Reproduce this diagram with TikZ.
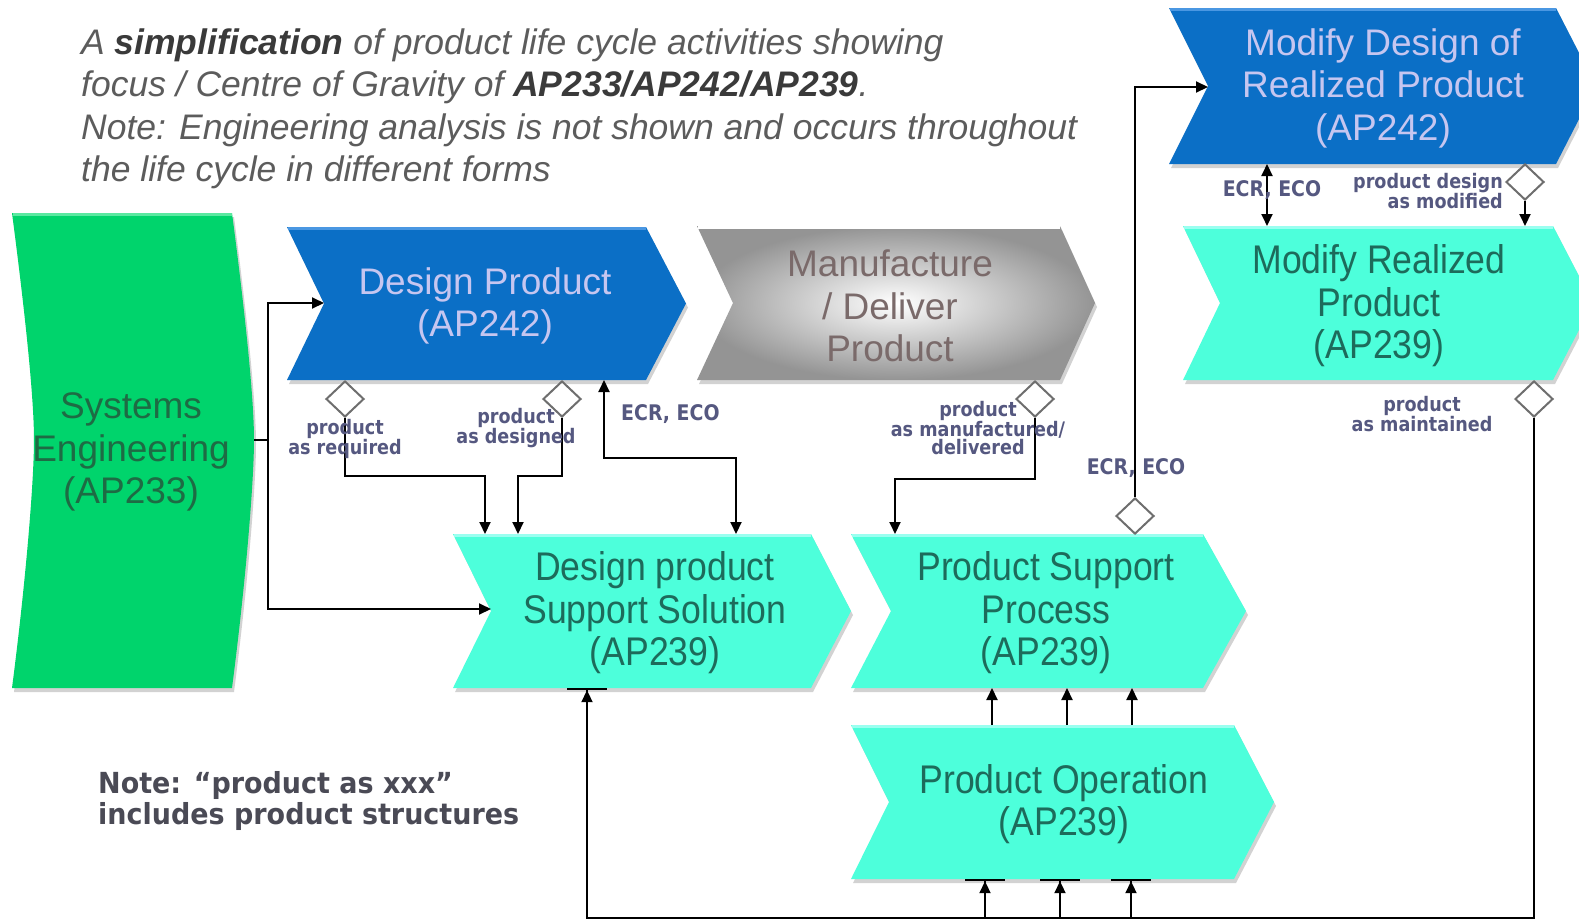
\documentclass[tikz,border=0pt]{standalone}
\usepackage{fontspec}
\setmainfont{Liberation Sans}
\newfontfamily\boxfont{Liberation Sans}
\newfontfamily\narrowbox[FakeStretch=0.89]{Liberation Sans}
\newfontfamily\labelfont[FakeStretch=0.88]{DejaVu Sans}
\newfontfamily\notefont[FakeStretch=0.93]{DejaVu Sans}
\usetikzlibrary{shapes.geometric,arrows.meta,shadows}

\definecolor{apblue}{HTML}{0B6FC6}
\definecolor{apbluehl}{HTML}{4A97E2}
\definecolor{apteal}{HTML}{4DFFDB}
\definecolor{aptealhl}{HTML}{9AFFF0}
\definecolor{apgreen}{HTML}{00D46C}
\definecolor{apgreenhl}{HTML}{5AE8A0}
\definecolor{bluetext}{HTML}{C6C6F0}
\definecolor{tealtext}{HTML}{1D6B5B}
\definecolor{greentext}{HTML}{1E6B44}
\definecolor{graytext}{HTML}{7A6A6A}
\definecolor{labeltext}{HTML}{555880}
\definecolor{titlegray}{HTML}{5C5C5C}
\definecolor{titledark}{HTML}{3A3A3A}
\definecolor{notetext}{HTML}{4A4A55}
\definecolor{diamondgray}{HTML}{6E6E6E}

\tikzset{
  tip/.tip={Triangle[length=12pt,width=11pt]},
  conn/.style={draw=black, line width=2pt, -tip},
  bothconn/.style={draw=black, line width=2pt, tip-tip},
  plain/.style={draw=black, line width=2pt},
  barconn/.style={draw=black, line width=2pt,
    -{Triangle[length=12pt,width=11pt,sep=0pt] Bar[width=40pt,line width=2.2pt]}},
  gate/.style={diamond, draw=diamondgray, fill=white, line width=2pt,
    minimum width=38pt, minimum height=36pt, inner sep=0pt},
  lab/.style={font=\labelfont\bfseries\fontsize{20}{18.5}\selectfont,
    text=labeltext, align=center, inner sep=0pt},
  ecr/.style={font=\labelfont\bfseries\fontsize{21.5}{20}\selectfont,
    text=labeltext, inner sep=0pt},
  bluetxt/.style={font=\boxfont\fontsize{37}{42.5}\selectfont, text=bluetext,
    align=center, inner sep=0pt},
  graytxt/.style={font=\boxfont\fontsize{37}{42.5}\selectfont, text=graytext,
    align=center, inner sep=0pt},
  tealtxt/.style={font=\narrowbox\fontsize{40}{42.5}\selectfont, text=tealtext,
    align=center, inner sep=0pt},
  greentxt/.style={font=\boxfont\fontsize{37}{42.3}\selectfont, text=greentext,
    align=center, inner sep=0pt},
  shade3d/.style={drop shadow={opacity=0.35, shadow xshift=2pt, shadow yshift=-4pt}},
  bluebox/.style={fill=apblue, shade3d},
  tealbox/.style={fill=apteal, shade3d},
  graybox/.style={shading=radial, inner color=white, outer color=black!42, shade3d},
  greenbox/.style={fill=apgreen, shade3d},
}

% chevron: style, left x, right x, top y, bottom y, notch depth, point depth, top-edge colour
\newcommand{\chevronpath}[8]{%
  \path[#1] (#2,#4) -- (#3,#4) -- ({#3+#7},{(#4+#5)/2}) -- (#3,#5) -- (#2,#5)
    -- ({#2+#6},{(#4+#5)/2}) -- cycle;
  \draw[#8, line width=3pt] ({#2+1},{#4+1.5}) -- ({#3-0.5},{#4+1.5});}

\begin{document}
\begin{tikzpicture}[x=1pt, y=-1pt]
\useasboundingbox (0,0) rectangle (1579,921);
\fill[white] (0,0) rectangle (1579,921);

% ---- process shapes ----
\path[greenbox] (12,213) -- (232,213) .. controls (246,320) and (254,400) .. (254,440)
  .. controls (254,480) and (246,580) .. (232,688) -- (12,688)
  .. controls (26,580) and (34,480) .. (34,440)
  .. controls (34,400) and (26,320) .. (12,213) -- cycle;
\draw[apgreenhl, line width=3pt] (13,214.5) -- (231.5,214.5);

\chevronpath{bluebox}{287}{646}{227}{380}{37}{40}{apbluehl}
\chevronpath{graybox}{697}{1060}{226}{380}{36}{35}{white}
\chevronpath{bluebox}{1169}{1556}{8}{164}{39}{40}{apbluehl}
\chevronpath{tealbox}{1183}{1553}{226}{380}{37}{40}{aptealhl}
\chevronpath{tealbox}{453}{811}{534}{688}{38}{40}{aptealhl}
\chevronpath{tealbox}{851}{1203}{534}{688}{40}{43}{aptealhl}
\chevronpath{tealbox}{851}{1234}{725}{879}{38}{40}{aptealhl}

% ---- shape texts ----
\node[greentxt] (se-text) at (131,452) {Systems\\Engineering\\(AP233)};
\node[bluetxt] (dp-text) at (485,306) {Design Product\\(AP242)};
\node[graytxt] (mf-text) at (890,306) {Manufacture\\/ Deliver\\Product};
\node[bluetxt] (md-text) at (1383,88) {Modify Design of\\Realized Product\\(AP242)};
\node[tealtxt] (mr-text) at (1379,306) {Modify Realized\\Product\\(AP239)};
\node[tealtxt] (dpss-text) at (655,613) {Design product\\Support Solution\\(AP239)};
\node[tealtxt] (psp-text) at (1046,613) {Product Support\\Process\\(AP239)};
\node[tealtxt] (po-text) at (1064,804) {Product Operation\\(AP239)};

% ---- attachment points ----
\coordinate (se-tip) at (254,440);
\coordinate (bus-se) at (268,440);
\coordinate (dp-notch) at (324,303);
\coordinate (dp-ecr) at (604,380);
\coordinate (dpss-notch) at (491,609);
\coordinate (dpss-t1) at (485,534);
\coordinate (dpss-t2) at (518,534);
\coordinate (dpss-t3) at (736,534);
\coordinate (dpss-b) at (587,688);
\coordinate (psp-t) at (895,534);
\coordinate (psp-b1) at (992,688);
\coordinate (psp-b2) at (1067,688);
\coordinate (psp-b3) at (1132,688);
\coordinate (po-t1) at (992,725);
\coordinate (po-t2) at (1067,725);
\coordinate (po-t3) at (1132,725);
\coordinate (po-b1) at (985,879);
\coordinate (po-b2) at (1060,879);
\coordinate (po-b3) at (1131,879);
\coordinate (md-notch) at (1208,87);
\coordinate (md-b) at (1267,164);
\coordinate (mr-t1) at (1267,226);
\coordinate (mr-t2) at (1525,226);
\coordinate (bus-r) at (1534,918);
\coordinate (bus-l) at (587,918);

% ---- connectors ----
\draw[plain] (se-tip) -- (bus-se);
\draw[conn] (bus-se) |- (dp-notch);
\draw[conn] (bus-se) |- (dpss-notch);

\node[gate] (d1) at (345,399) {};
\node[gate] (d2) at (562,399) {};
\node[gate] (d3) at (1035,399) {};
\node[gate] (d4) at (1135,516) {};
\node[gate] (d5) at (1525,182) {};
\node[gate] (d6) at (1534,399) {};

\draw[conn] (d1.south) -- ++(0,58) -| (dpss-t1);
\draw[conn] (d2.south) -- ++(0,58) -| (dpss-t2);
\draw[bothconn] (dp-ecr) -- ++(0,78) -| (dpss-t3);
\draw[conn] (d3.south) -- ++(0,61) -| (psp-t);
\draw[conn] (d4.north) |- (md-notch);
\draw[bothconn] (md-b) -- (mr-t1);
\draw[conn] (d5.south) -- (mr-t2);
\draw[barconn] (d6.south) -- (bus-r) -- (bus-l) -- (dpss-b);
\draw[barconn] (po-b1 |- bus-r) -- (po-b1);
\draw[barconn] (po-b2 |- bus-r) -- (po-b2);
\draw[barconn] (po-b3 |- bus-r) -- (po-b3);
\draw[conn] (po-t1) -- (psp-b1);
\draw[conn] (po-t2) -- (psp-b2);
\draw[conn] (po-t3) -- (psp-b3);

% ---- connector labels ----
\node[lab] (l1) at (345,439) {product\\as required};
\node[lab] (l2) at (516,428) {product\\as designed};
\node[lab] (l3) at (978,428) {product\\as manufactured/\\delivered};
\node[lab] (l6) at (1422,414) {product\\as maintained};
\node[lab, align=right, anchor=east] (l5) at (1503,191) {product design\\as modified};
\node[ecr, anchor=west] (e1) at (621,414) {ECR, ECO};
\node[ecr] (e2) at (1136,468) {ECR, ECO};
\node[ecr] (e3) at (1272,190) {ECR, ECO};

% ---- notes ----
\node[anchor=west, align=left, inner sep=0pt, text=titlegray,
      font=\boxfont\itshape\fontsize{35.5}{42.5}\selectfont] (title) at (81,109)
  {A \textcolor{titledark}{\textbf{simplification}} of product life cycle activities showing\\
   focus / Centre of Gravity of \textcolor{titledark}{\textbf{AP233/AP242/AP239}}.\\
   Note: Engineering analysis is not shown and occurs throughout\\
   the life cycle in different forms};
\node[anchor=west, align=left, inner sep=0pt, text=notetext,
      font=\notefont\bfseries\fontsize{29}{31.5}\selectfont] (note) at (98,801)
  {Note: “product as xxx”\\includes product structures};
\end{tikzpicture}
\end{document}
